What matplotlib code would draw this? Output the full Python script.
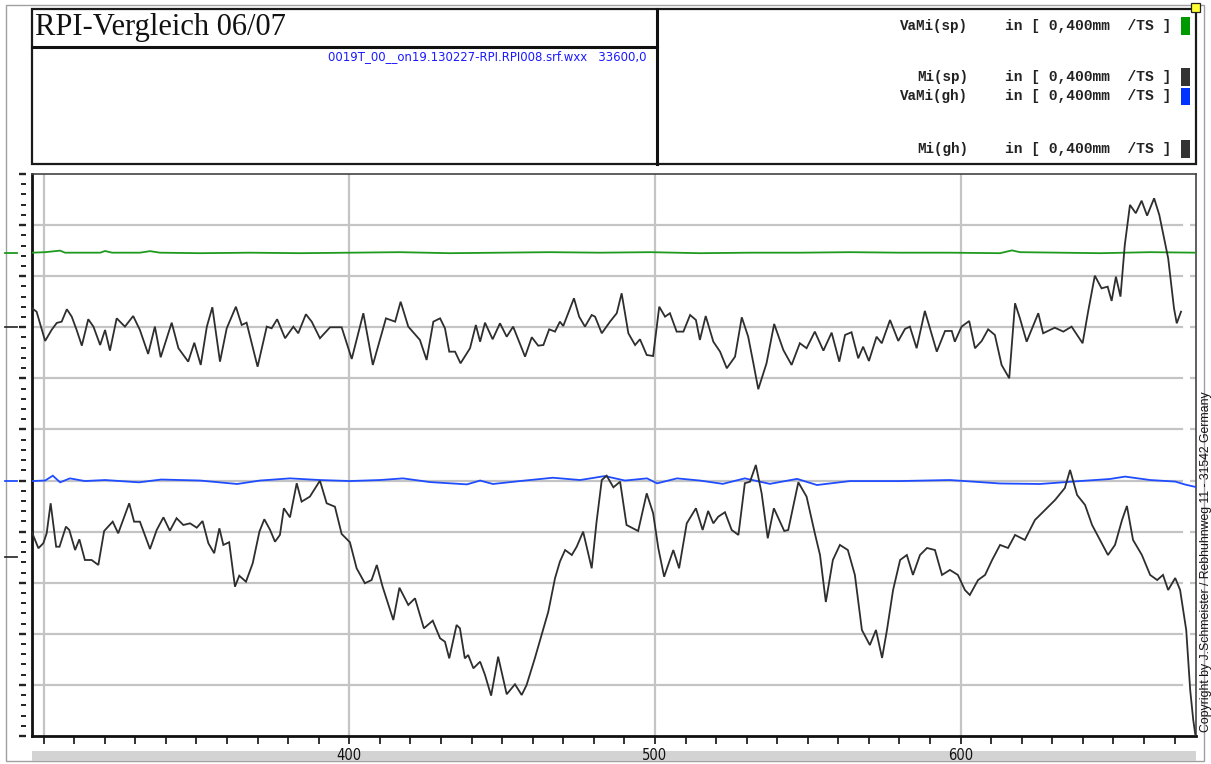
import matplotlib
matplotlib.use("Agg")
import matplotlib.pyplot as plt
import matplotlib.transforms as mtransforms
from matplotlib.patches import Rectangle
from matplotlib.lines import Line2D
from matplotlib.ticker import MultipleLocator, FixedLocator, FuncFormatter
import numpy as np

W, H = 1211, 764
UM_PER_TS = 400.0          # scale: 0,400 mm per graduation (TS)

# ---- channel data: position along track, deviation in micrometres ----
# Mi(sp)
mi_sp_x = [296.2, 297.7, 300.5, 302.6, 304.3, 305.9, 307.6, 309.2, 310.8, 312.5,
           314.6, 316.3, 318.5, 320.1, 321.7, 323.9, 326.6, 329.3, 331.5, 334.2,
           336.4, 338.3, 341.9, 344.1, 347.3, 349.3, 351.4, 353.4, 355.2, 357.7,
           359.9, 362.9, 364.8, 366.4, 370.0, 373.0, 374.6, 376.4, 379.0, 381.7,
           383.3, 385.8, 387.7, 390.4, 393.7, 397.5, 400.8, 404.6, 407.7, 412.0,
           415.0, 416.8, 419.3, 423.1, 425.3, 427.5, 429.7, 431.3, 432.7, 434.6,
           436.4, 439.5, 441.4, 442.8, 444.4, 446.9, 449.3, 451.5, 453.6, 457.5,
           459.7, 461.8, 463.5, 465.4, 467.3, 468.9, 470.0, 471.6, 473.5, 475.2,
           477.1, 479.3, 480.4, 482.6, 485.3, 487.5, 489.1, 491.3, 493.5, 495.1,
           497.3, 499.4, 501.4, 503.3, 504.9, 507.1, 509.3, 511.5, 513.4, 514.7,
           516.6, 519.1, 521.3, 523.5, 526.2, 528.4, 530.5, 532.2, 533.8, 536.5,
           539.0, 542.0, 544.7, 547.4, 549.6, 552.3, 555.1, 557.8, 560.3, 562.2,
           564.3, 566.5, 568.1, 570.0, 572.5, 574.2, 576.9, 579.6, 581.8, 583.4,
           585.6, 588.3, 592.2, 594.9, 597.1, 598.1, 600.3, 602.8, 604.7, 606.9,
           609.0, 611.2, 613.4, 615.9, 617.8, 619.4, 621.6, 625.4, 627.0, 630.8,
           633.6, 636.3, 639.9, 641.7, 643.9, 646.1, 648.1, 649.4, 650.8, 652.3,
           653.7, 655.4, 657.3, 659.2, 661.0, 663.3, 665.0, 667.9, 669.8, 670.7,
           672.1]
mi_sp_um = [149, 122, -107, -21, 34, 44, 141, 83, -21, -144,
            63, 5, -139, -21, -183, 70, 5, 88, -21, -209,
            5, -235, 36, -164, -269, -121, -295, 5, 157, -269,
            -8, 161, 18, 36, -309, 5, -8, 63, -86, 5,
            -47, 102, 44, -86, 0, 0, -248, 110, -295, 70,
            44, 200, 5, -99, -256, 44, 70, -8, -191, -191,
            -282, -164, 18, -113, 36, -94, 31, -74, 5, -230,
            -78, -144, -139, -16, -34, 44, 10, 110, 227, 83,
            5, 96, 83, -47, 44, 110, 266, -47, -139, -94,
            -217, -225, 161, 83, 110, -34, -34, 96, 57, -99,
            88, -113, -191, -321, -230, 78, -74, -282, -485, -282,
            26, -178, -295, -125, -164, -34, -183, -42, -269, -60,
            -39, -243, -152, -264, -74, -125, 57, -107, -13, 5,
            -164, 128, -191, -29, -29, -113, 5, 49, -164, -107,
            -16, -60, -295, -399, 188, 70, -113, 110, -47, -3,
            -34, 5, -125, 122, 404, 305, 318, 206, 396, 240,
            644, 958, 893, 991, 874, 1010, 879, 540, 149, 31,
            122]

# Mi(gh)
mi_gh_x = [296.1, 298.3, 299.9, 301.0, 302.3, 304.1, 305.2, 307.3, 308.4, 310.3,
           311.7, 313.5, 315.7, 317.9, 319.8, 322.6, 324.4, 328.0, 329.6, 331.5,
           334.8, 337.0, 339.2, 341.3, 343.5, 345.7, 347.9, 350.1, 352.0, 353.9,
           355.8, 357.5, 358.8, 360.7, 362.6, 364.0, 366.2, 368.4, 370.6, 372.2,
           374.1, 375.7, 377.3, 378.6, 380.6, 382.8, 384.4, 387.1, 390.4, 392.6,
           395.3, 397.5, 400.2, 402.4, 405.1, 407.3, 409.0, 410.9, 414.4, 416.4,
           419.3, 421.5, 424.4, 427.3, 429.7, 431.3, 432.7, 435.1, 436.2, 437.8,
           438.9, 440.6, 442.8, 444.4, 446.4, 448.7, 451.5, 454.2, 456.4, 458.0,
           460.7, 462.9, 465.1, 467.3, 468.9, 470.6, 472.8, 474.4, 476.5, 479.3,
           480.9, 482.6, 484.2, 486.4, 488.6, 490.7, 494.5, 497.3, 499.4, 501.1,
           503.0, 506.0, 507.9, 510.4, 513.4, 515.6, 517.4, 519.1, 520.7, 522.9,
           525.1, 527.3, 529.4, 531.1, 533.0, 534.9, 536.9, 538.9, 542.3, 543.6,
           546.9, 549.6, 552.3, 554.0, 555.9, 558.2, 560.5, 563.1, 565.4, 567.7,
           570.3, 572.3, 574.3, 575.9, 577.9, 580.2, 582.4, 584.4, 586.7, 589.0,
           591.6, 593.9, 596.5, 599.1, 601.4, 603.0, 605.7, 608.0, 610.3, 612.9,
           615.5, 617.8, 621.0, 624.3, 627.6, 630.9, 634.1, 635.8, 638.1, 640.7,
           643.0, 645.6, 648.2, 650.5, 652.8, 654.4, 656.4, 659.3, 662.0, 664.3,
           666.2, 667.9, 670.2, 671.8, 673.8, 675.1, 676.1, 676.8]
mi_gh_um = [200, 70, 109, 187, 422, 82, 82, 239, 213, 56,
            140, -22, -22, -61, 205, 278, 187, 422, 278, 278,
            64, 213, 312, 207, 305, 252, 265, 231, 283, 109,
            31, 226, 96, 117, -231, -145, -192, -48, 200, 297,
            213, 121, 174, 383, 312, 579, 435, 474, 599, 422,
            395, 182, 117, -87, -204, -179, -61, -231, -492, -239,
            -374, -322, -557, -497, -635, -662, -792, -531, -557, -792,
            -766, -870, -818, -922, -1084, -779, -1073, -995, -1079, -1001,
            -792, -609, -427, -165, -35, 56, 17, 82, 200, -87,
            278, 604, 638, 547, 591, 252, 205, 500, 344, 70,
            -153, 56, -87, 265, 383, 213, 362, 265, 317, 352,
            213, 174, 579, 591, 722, 500, 148, 383, 205, 213,
            586, 474, 187, 17, -351, -22, 96, 56, -139, -570,
            -688, -570, -789, -570, -257, -22, 17, -139, 17, 72,
            56, -139, -100, -139, -257, -296, -179, -139, -22, 96,
            72, 174, 135, 291, 370, 448, 542, 683, 487, 409,
            252, 135, 17, 96, 291, 401, 135, 17, -139, -179,
            -139, -257, -163, -257, -570, -1040, -1275, -1393]

# VaMi(sp)
va_sp_x = [296.2, 300.5, 305.4, 307.0, 318.5, 320.1, 322.4, 331.5, 334.8, 338.1,
           351.2, 367.5, 383.9, 400.2, 416.5, 432.9, 449.3, 465.6, 482.0, 498.4,
           514.7, 531.1, 547.4, 563.8, 580.2, 596.5, 612.9, 616.8, 619.4, 632.5,
           645.6, 662.0, 677.0]
va_sp_um = [0, 4, 16, 0, 0, 13, 0, 0, 12, 0,
            -4, 0, -4, 0, 4, -4, 0, 4, 0, 4,
            -4, 0, 0, 4, 0, 0, -4, 18, 4, 0,
            -4, 4, 0]

# VaMi(gh)
va_gh_x = [296.2, 300.5, 303.0, 305.4, 308.6, 313.5, 320.1, 331.2, 338.5, 351.2,
           363.3, 370.8, 380.6, 390.4, 400.2, 410.0, 417.6, 426.4, 438.5, 442.8,
           447.0, 455.8, 466.6, 475.5, 483.6, 490.2, 497.4, 500.7, 507.2, 514.7,
           522.2, 529.4, 537.6, 546.5, 553.0, 563.8, 580.2, 596.5, 612.9, 626.0,
           639.0, 648.8, 653.8, 662.0, 670.2, 673.4, 677.0]
va_gh_um = [-4, 0, 38, -14, 17, -4, 4, -14, 8, 0,
            -27, 0, 17, 4, -4, 4, 17, -12, -30, 0,
            -27, -4, 22, 4, 35, 0, 17, -22, 17, 0,
            -26, 17, -26, 13, -35, -4, -4, 4, -23, -27,
            -4, 12, 31, 4, -8, -31, -51]

channels = ["VaMi(sp)", "Mi(sp)", "VaMi(gh)", "Mi(gh)"]
offsets_ts = [9.46, 8.0, 5.0, 3.5]          # display zero of each channel
colors = ["#1f9a1f", "#2e2e2e", "#1f4cff", "#2e2e2e"]
series_x = [va_sp_x, mi_sp_x, va_gh_x, mi_gh_x]
series_um = [va_sp_um, mi_sp_um, va_gh_um, mi_gh_um]
swatch_colors = ["#009900", "#333333", "#0033ff", "#333333"]

x_ticks_labelled = [400, 500, 600]
x_grid = [300, 400, 500, 600]

PT = 0.72   # points per pixel at 100 dpi

# ---------------------------------------------------------------------------
fig = plt.figure(figsize=(W / 100, H / 100), dpi=100)
fig.patch.set_facecolor("white")


def fx(px):
    return px / W


def fy(py):
    return 1 - py / H


def frect(x0, y0, x1, y1, **kw):
    r = Rectangle((fx(x0), fy(y1)), fx(x1) - fx(x0), fy(y0) - fy(y1),
                  transform=fig.transFigure, **kw)
    fig.add_artist(r)
    return r


def fline(xs, ys, **kw):
    fig.add_artist(Line2D([fx(v) for v in xs], [fy(v) for v in ys],
                          transform=fig.transFigure, **kw))


# window frame
frect(6, 5, 1204, 761, fill=False, edgecolor="#a0a0a0", lw=1.0, zorder=-2)

# header: title box and legend box
frect(32, 9, 1196, 164, fill=False, edgecolor="#1a1a1a", lw=1.6)
fline([32, 657], [47, 47], color="#111111", lw=2.2)
fline([657, 657], [9, 164], color="#111111", lw=2.2)

fig.text(fx(35), fy(28), "RPI-Vergleich 06/07", family=["Liberation Serif", "DejaVu Serif"],
         fontsize=22, va="center", ha="left", color="#111111")
fig.text(fx(646), fy(57), "0019T_00__on19.130227-RPI.RPI008.srf.wxx   33600,0",
         family=["Liberation Sans Narrow", "DejaVu Sans"], fontsize=9.4, color="#1a1aff",
         ha="right", va="center", stretch="condensed")

legend_y = [26, 77, 96, 149]
for name, ly, sc in zip(channels, legend_y, swatch_colors):
    fig.text(fx(968), fy(ly), name, family=["Liberation Mono", "DejaVu Sans Mono"],
             fontsize=10.3, weight="bold", ha="right", va="center", color="#222222")
    fig.text(fx(1005), fy(ly), "in [ 0,400mm  /TS ]",
             family=["Liberation Mono", "DejaVu Sans Mono"],
             fontsize=10.5, weight="bold", ha="left", va="center", color="#222222")
    frect(1181, ly - 8.5, 1190, ly + 8.5, facecolor=sc, edgecolor="none")

frect(1191, 3, 1200, 12, facecolor="#ffff33", edgecolor="#222222", lw=0.9)

# scrollbar under the x axis (behind the tick labels)
frect(32, 751, 1196, 761, facecolor="#d3d3d3", edgecolor="none", zorder=-1)

# ---------------------------------------------------------------------------
ax = fig.add_axes([fx(32), fy(736), fx(1196) - fx(32), fy(174) - fy(736)])
ax.set_xlim(296.2, 677.0)
ax.set_ylim(0, 11)
ax.set_facecolor("white")

# grid
for gx in x_grid:
    ax.axvline(gx, color="#c4c4c4", lw=1.6, zorder=1)
for gy in range(1, 11):
    ax.axhline(gy, xmin=0, xmax=(1182 - 32) / 1164, color="#c4c4c4", lw=1.6, zorder=1)

# traces
for x, um, off, c in zip(series_x, series_um, offsets_ts, colors):
    y = np.asarray(um, dtype=float) / UM_PER_TS + off
    ax.plot(x, y, color=c, lw=1.3, zorder=3, solid_joinstyle="miter")

# channel zero markers left of the scale
blend = mtransforms.blended_transform_factory(ax.transAxes, ax.transData)
x_m0, x_m1 = (5 - 32) / 1164, (17 - 32) / 1164
for off, c in zip(offsets_ts, ["#1f9a1f", "#333333", "#1f4cff", "#333333"]):
    ax.add_line(Line2D([x_m0, x_m1], [off, off], transform=blend, color=c,
                       lw=1.3, clip_on=False))

# spines
for s in ["left", "bottom"]:
    ax.spines[s].set_linewidth(2.0)
    ax.spines[s].set_color("#111111")
for s in ["top", "right"]:
    ax.spines[s].set_linewidth(1.2)
    ax.spines[s].set_color("#444444")

# x axis: a tick every 10, labels at the hundreds
ax.xaxis.set_major_locator(FixedLocator(list(range(300, 680, 10))))
ax.xaxis.set_major_formatter(FuncFormatter(
    lambda v, p: f"{int(round(v))}" if int(round(v)) in x_ticks_labelled else ""))
ax.tick_params(axis="x", direction="out", length=8 * PT, width=1.2, color="#111111",
               pad=4 * PT, labelsize=10.5, labelcolor="#111111")
for lab in ax.get_xticklabels():
    lab.set_family(["Liberation Sans Narrow", "DejaVu Sans"])
    lab.set_stretch("condensed")

# y axis on the main axes: short inner ticks on the right only
ax.yaxis.set_major_locator(FixedLocator(list(range(1, 11))))
ax.tick_params(axis="y", left=False, labelleft=False, right=True, direction="in",
               length=6 * PT, width=1.6, color="#c4c4c4")

# graduation scale, detached a little from the left spine
sec = ax.secondary_yaxis((26.5 - 32) / 1164)
sec.spines["left"].set_visible(False)
sec.yaxis.set_major_locator(MultipleLocator(1))
sec.yaxis.set_minor_locator(MultipleLocator(0.2))
sec.tick_params(axis="y", which="major", length=7 * PT, width=1.7, direction="out",
                color="#222222", labelleft=False)
sec.tick_params(axis="y", which="minor", length=5 * PT, width=1.4, direction="out",
                color="#222222")
sec.set_yticklabels([])

fig.text(fx(1205.5), fy(562), "Copyright by J.Schmeister / Rebhuhnweg 11 - 31542 Germany",
         rotation=90, ha="center", va="center", fontsize=8.8,
         family=["Liberation Sans", "DejaVu Sans"], color="#111111")

fig.savefig("out.png", dpi=100, facecolor="white")
